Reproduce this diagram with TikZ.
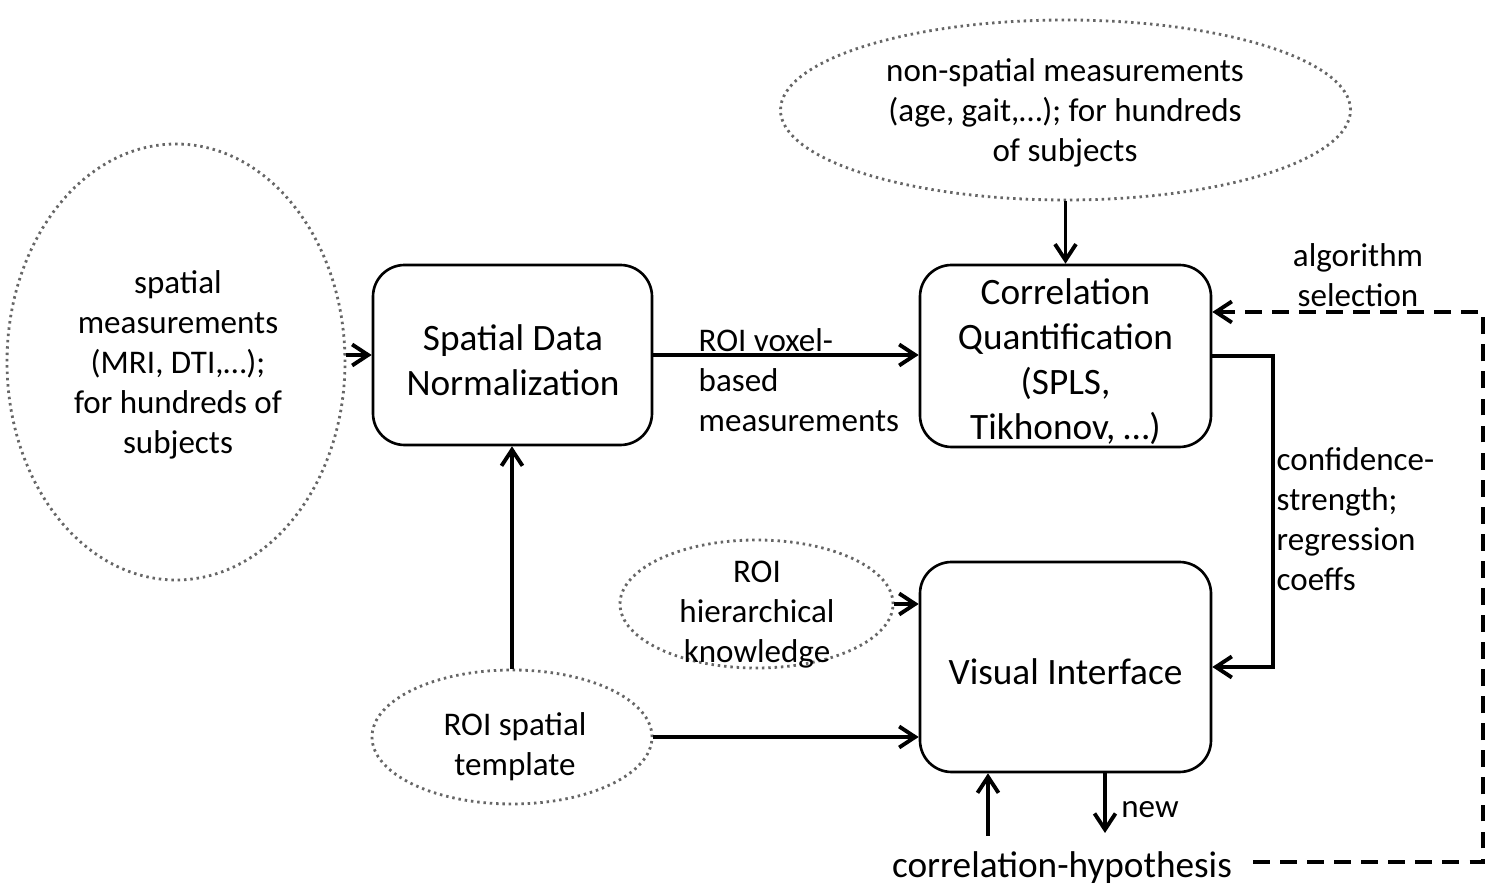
\documentclass[tikz,border=0pt]{standalone}
\usepackage{fontspec}
\setmainfont{Carlito}
\usetikzlibrary{shapes.geometric,arrows.meta,calc}

\begin{document}
\begin{tikzpicture}[
  x=1cm,y=1cm,
  txt/.style={align=center,font=\fontsize{9.4}{11.4}\selectfont,inner sep=0pt},
  ltxt/.style={align=left,font=\fontsize{9.4}{11.4}\selectfont,inner sep=0pt},
  btxt/.style={align=center,font=\fontsize{10.6}{12.8}\selectfont,inner sep=0pt},
  procbox/.style={draw,line width=0.75pt,rounded corners=9pt,inner sep=0pt},
  source/.style={draw=black!60,ellipse,line width=0.8pt,
    dash pattern=on 0.7pt off 1.1pt,inner sep=0pt},
  arr/.style={line width=1.1pt,-{Straight Barb[length=1.6mm,width=2.1mm]}},
  feedback/.style={line width=1.4pt,dash pattern=on 4.8pt off 2.9pt}
]
\useasboundingbox (0,0) rectangle (14.92,-8.96);

% processing stages
\node[procbox,minimum width=2.79cm,minimum height=1.80cm] (sdn) at (5.125,-3.55) {};
\node[btxt] at (5.13,-3.60) {Spatial Data\\Normalization};
\node[procbox,minimum width=2.91cm,minimum height=1.82cm] (cq) at (10.655,-3.56) {};
\node[btxt] at (10.655,-3.62) {Correlation\\Quantification\\(SPLS,\\Tikhonov, \ldots)};
\node[procbox,minimum width=2.91cm,minimum height=2.10cm] (vi) at (10.655,-6.67) {};
\node[btxt] at (10.655,-6.72) {Visual Interface};

% data sources
\node[source,minimum width=3.38cm,minimum height=4.36cm] (spat) at (1.76,-3.62) {};
\node[txt] at (1.78,-3.65) {spatial\\measurements\\(MRI, DTI,\ldots);\\for hundreds of\\subjects};

\node[source,minimum width=5.70cm,minimum height=1.80cm] (nonsp) at (10.655,-1.10) {};
\node[txt] at (10.65,-1.13) {non-spatial measurements\\(age, gait,\ldots); for hundreds\\of subjects};

\node[source,minimum width=2.73cm,minimum height=1.28cm] (roih) at (7.565,-6.04) {};
\node[txt] at (7.57,-6.15) {ROI\\hierarchical\\knowledge};

\node[source,minimum width=2.80cm,minimum height=1.34cm] (tmpl) at (5.12,-7.37) {};
\node[txt] at (5.15,-7.47) {ROI spatial\\template};

\node[btxt] (hyp) at (10.62,-8.68) {correlation-hypothesis};

% data flow
\draw[arr] (spat.east |- sdn.west) -- (sdn.west);
\draw[arr] (sdn.east) -- (sdn.east -| cq.west);
\node[ltxt,anchor=north west] at (6.98,-3.28) {ROI voxel-\\based\\measurements};
\draw[arr] (nonsp.south) -- (cq.north);
\draw[arr] (tmpl.north) -- (tmpl.north |- sdn.south);
\draw[arr] (tmpl.east) -- (tmpl.east -| vi.west);
\draw[arr] (roih.east) -- (roih.east -| vi.west);
\draw[arr] (cq.east) -- ++(0.61,0) |- (vi.east);
\node[ltxt,anchor=north west] at (12.76,-4.47) {confidence-\\strength;\\regression\\coeffs};

% hypothesis loop
\coordinate (up) at (9.88,-8.36);
\coordinate (dn) at (11.05,-8.33);
\draw[arr] (up) -- (up |- vi.south);
\draw[arr] (dn |- vi.south) -- (dn);
\node[txt] at (11.50,-8.10) {new};

\coordinate (fbB) at (14.83,-8.62);
\coordinate (fbT) at (14.83,-3.12);
\draw[feedback] (12.53,-8.62) -- (fbB) -- (fbT) -- (fbT -| 12.30,0);
\draw[feedback,arr] (fbT -| 12.30,0) -- (fbT -| cq.east);
\node[txt] at (13.58,-2.75) {algorithm\\selection};
\end{tikzpicture}
\end{document}
